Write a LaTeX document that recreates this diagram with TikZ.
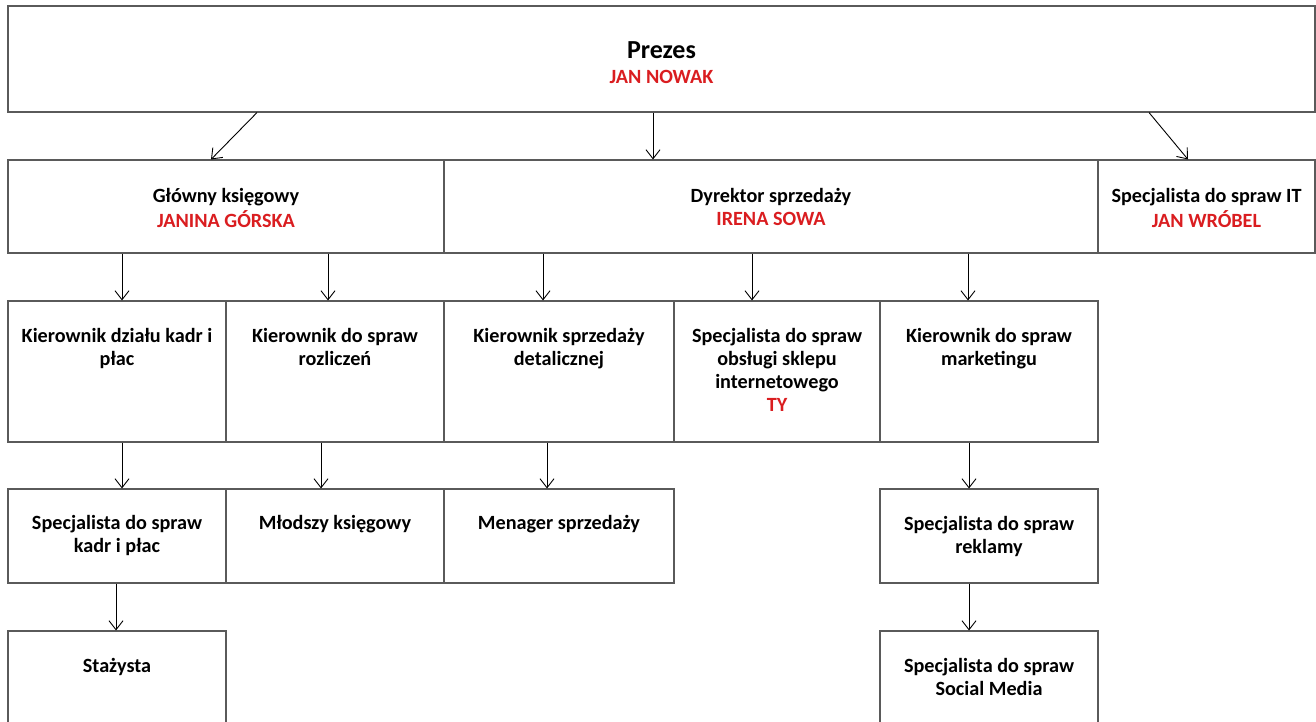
\documentclass[tikz,border=0pt]{standalone}
\usepackage{fontspec}
\setmainfont{Carlito}
\usetikzlibrary{arrows.meta}
\definecolor{redname}{RGB}{218,29,32}
\definecolor{boxline}{RGB}{90,90,90}
\tikzset{
  box/.style={draw=boxline, line width=1.1pt, rectangle, inner sep=0pt},
  txt/.style={inner sep=0pt, align=center, anchor=north, yshift=-25.9pt,
    font=\fontsize{20.2}{23}\selectfont\bfseries},
  big/.style={inner sep=0pt, anchor=base, font=\fontsize{26}{29}\selectfont\bfseries},
  topname/.style={inner sep=0pt, anchor=base, text=redname, font=\fontsize{20.2}{23}\selectfont\bfseries},
  arr/.style={draw=black, line width=0.9pt, -{Straight Barb[length=9pt,width=14pt,line width=0.9pt]}}
}
\begin{document}
\begin{tikzpicture}[x=1pt,y=-1pt]
\useasboundingbox (0,0) rectangle (1316,721);
\clip (0,0) rectangle (1316,721);
\fill[white] (0,0) rectangle (1316,721);
% boxes
\node[box, minimum width=1307pt, minimum height=106pt] (top) at (661.5,59) {};
\node[box, minimum width=436pt, minimum height=93pt] (b21) at (226,206.5) {};
\node[box, minimum width=654pt, minimum height=93pt] (b22) at (771,206.5) {};
\node[box, minimum width=217pt, minimum height=93pt] (b23) at (1206.5,206.5) {};
\node[box, minimum width=218pt, minimum height=141pt] (b31) at (117,371.5) {};
\node[box, minimum width=218pt, minimum height=141pt] (b32) at (335,371.5) {};
\node[box, minimum width=230pt, minimum height=141pt] (b33) at (559,371.5) {};
\node[box, minimum width=206pt, minimum height=141pt] (b34) at (777,371.5) {};
\node[box, minimum width=218pt, minimum height=141pt] (b35) at (989,371.5) {};
\node[box, minimum width=218pt, minimum height=94pt] (b41) at (117,536) {};
\node[box, minimum width=218pt, minimum height=94pt] (b42) at (335,536) {};
\node[box, minimum width=230pt, minimum height=94pt] (b43) at (559,536) {};
\node[box, minimum width=218pt, minimum height=94pt] (b44) at (989,536) {};
\node[box, minimum width=218pt, minimum height=94pt] (b51) at (117,678) {};
\node[box, minimum width=218pt, minimum height=94pt] (b52) at (989,678) {};
% texts
\node[big] (t1a) at ([yshift=-53pt]top.north) {Prezes};
\node[topname] (t1b) at ([yshift=-78pt]top.north) {JAN NOWAK};
\node[txt, yshift=-0.5pt] (t21) at (b21.north) {\strut Główny księgowy\\{\color{redname}JANINA GÓRSKA}};
\node[txt, yshift=-0.5pt] (t22) at (b22.north) {\strut Dyrektor sprzedaży\\{\color{redname}IRENA SOWA}};
\node[txt, yshift=-0.5pt] (t23) at (b23.north) {\strut Specjalista do spraw IT\\{\color{redname}JAN WRÓBEL}};
\node[txt] (t31) at (b31.north) {\strut Kierownik działu kadr i\\płac};
\node[txt] (t32) at (b32.north) {\strut Kierownik do spraw\\rozliczeń};
\node[txt] (t33) at (b33.north) {\strut Kierownik sprzedaży\\detalicznej};
\node[txt] (t34) at (b34.north) {\strut Specjalista do spraw\\obsługi sklepu\\internetowego\\{\color{redname}TY}};
\node[txt] (t35) at (b35.north) {\strut Kierownik do spraw\\marketingu};
\node[txt, yshift=1pt] (t41) at (b41.north) {\strut Specjalista do spraw\\kadr i płac};
\node[txt, yshift=1pt] (t42) at (b42.north) {\strut Młodszy księgowy};
\node[txt, yshift=1pt] (t43) at (b43.north) {\strut Menager sprzedaży};
\node[txt] (t44) at (b44.north) {\strut Specjalista do spraw\\reklamy};
\node[txt] (t51) at (b51.north) {\strut Stażysta};
\node[txt] (t52) at (b52.north) {\strut Specjalista do spraw\\Social Media};
% arrows
\draw[arr] (top.south -| 257,0) -- (b21.north -| 211,0);
\draw[arr] (top.south -| 653,0) -- (b22.north -| 653,0);
\draw[arr] (top.south -| 1149,0) -- (b23.north -| 1188,0);
\draw[arr] (b21.south -| 122,0) -- (b31.north -| 122,0);
\draw[arr] (b21.south -| 328,0) -- (b32.north -| 328,0);
\draw[arr] (b22.south -| 543,0) -- (b33.north -| 543,0);
\draw[arr] (b22.south -| 752,0) -- (b34.north -| 752,0);
\draw[arr] (b22.south -| 968,0) -- (b35.north -| 968,0);
\draw[arr] (b31.south -| 122,0) -- (b41.north -| 122,0);
\draw[arr] (b32.south -| 321,0) -- (b42.north -| 321,0);
\draw[arr] (b33.south -| 547,0) -- (b43.north -| 547,0);
\draw[arr] (b35.south -| 969,0) -- (b44.north -| 969,0);
\draw[arr] (b41.south -| 116,0) -- (b51.north -| 116,0);
\draw[arr] (b44.south -| 969,0) -- (b52.north -| 969,0);
\end{tikzpicture}
\end{document}
